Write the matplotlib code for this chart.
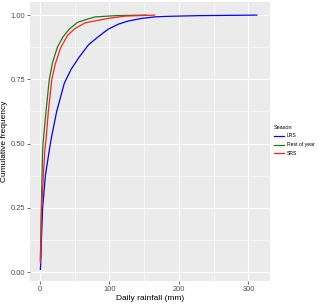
import numpy as np
import matplotlib.pyplot as plt

# ------------------ ECDF of daily rainfall by season ------------------

plt.rcParams["font.family"] = ["Liberation Sans", "DejaVu Sans"]

seasons = ["LRS", "Rest of year", "SRS"]
colors = ["#0000FF", "#1E7B1E", "#FF2020"]

lrs_mm = [0.5, 1, 2, 3.8, 7.7, 13.4, 15.8, 24, 35, 45, 56, 70, 84, 98, 113, 127, 146, 165,
          180, 230, 312]
lrs_cf = [0.01, 0.03, 0.125, 0.25, 0.375, 0.475, 0.514, 0.625, 0.735, 0.79, 0.835, 0.885,
          0.916, 0.945, 0.965, 0.977, 0.987, 0.993, 0.995, 0.998, 1.0]

rest_mm = [0.5, 1.8, 2.9, 3.8, 4.8, 8.6, 13.4, 18, 25, 33, 42, 54, 79, 110, 153]
rest_cf = [0.047, 0.25, 0.375, 0.475, 0.514, 0.625, 0.75, 0.815, 0.875, 0.915, 0.945,
           0.972, 0.993, 0.998, 1.0]

srs_mm = [0.5, 2.4, 4.8, 7, 8.6, 12, 17, 22, 30, 40, 50, 65, 98, 122, 165]
srs_cf = [0.035, 0.25, 0.375, 0.475, 0.514, 0.625, 0.75, 0.81, 0.875, 0.922, 0.947, 0.970,
          0.987, 0.996, 1.0]

curves = [(lrs_mm, lrs_cf), (rest_mm, rest_cf), (srs_mm, srs_cf)]

x_ticks = [0, 100, 200, 300]
y_ticks = [0.00, 0.25, 0.50, 0.75, 1.00]

fig = plt.figure(figsize=(3.2, 3.04), dpi=100)
ax = fig.add_axes([30 / 320, 1 - 281 / 304, 240 / 320, 279 / 304])
ax.set_facecolor("#EBEBEB")

for name, col, (xs, ys) in zip(seasons, colors, curves):
    ax.plot(xs, ys, color=col, lw=0.9, label=name)

ax.set_xlim(-14.4, 331)
ax.set_ylim(-0.035, 1.051)
ax.set_xticks(x_ticks)
ax.set_yticks(y_ticks)
ax.set_yticklabels([f"{v:.2f}" for v in y_ticks])
ax.set_xticks([50, 150, 250], minor=True)
ax.set_yticks([0.125, 0.375, 0.625, 0.875], minor=True)
ax.grid(which="major", color="white", lw=0.8)
ax.grid(which="minor", color="white", lw=0.4)
ax.set_axisbelow(True)
for s in ax.spines.values():
    s.set_visible(False)
ax.tick_params(which="major", length=2, width=0.5, color="#333333",
               labelsize=5.4, labelcolor="#4D4D4D", pad=1.5)
ax.tick_params(which="minor", length=0)

ax.set_xlabel("Daily rainfall (mm)", fontsize=6, labelpad=1.5)
ax.set_ylabel("Cumulative frequency", fontsize=6, labelpad=1.5)

fig.legend(loc="upper left", bbox_to_anchor=(270 / 320, 1 - 121 / 304), frameon=False,
           title="Season", fontsize=3.7, title_fontsize=4, alignment="left",
           handlelength=2.0, handletextpad=0.6, labelspacing=0.75, borderpad=0.2)

plt.savefig("out.png", dpi=100)
